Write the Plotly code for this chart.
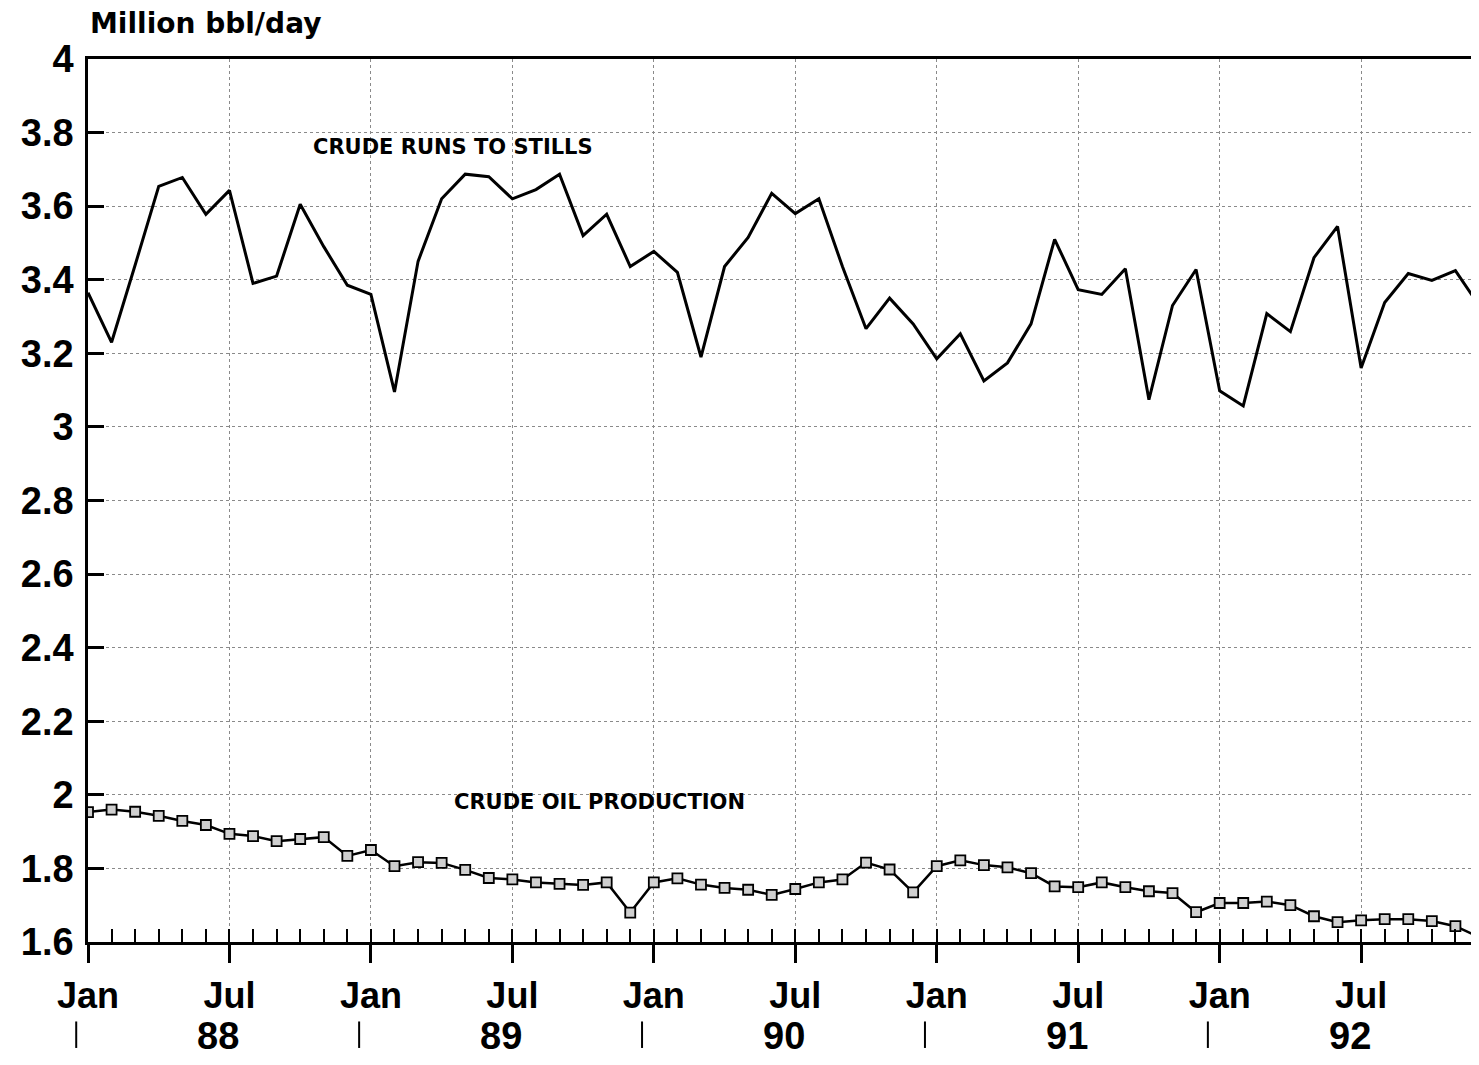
import plotly.graph_objects as go

# ---------------- data (million bbl/day, monthly Jan 1988 - Dec 1992) ----------------
years = ["88", "89", "90", "91", "92"]
month_labels = ["Jan", "Jul"]

crude_runs_1988 = [3.365, 3.23, 3.44, 3.654, 3.678, 3.578, 3.643, 3.39, 3.41, 3.605, 3.49, 3.385]
crude_runs_1989 = [3.36, 3.095, 3.45, 3.62, 3.687, 3.68, 3.62, 3.645, 3.687, 3.52, 3.578, 3.436]
crude_runs_1990 = [3.477, 3.42, 3.19, 3.436, 3.515, 3.635, 3.58, 3.62, 3.436, 3.267, 3.35, 3.28]
crude_runs_1991 = [3.185, 3.253, 3.125, 3.174, 3.28, 3.51, 3.373, 3.36, 3.43, 3.074, 3.33, 3.428]
crude_runs_1992 = [3.098, 3.057, 3.308, 3.259, 3.46, 3.545, 3.16, 3.338, 3.417, 3.398, 3.425, 3.33]

crude_prod_1988 = [1.953, 1.960, 1.954, 1.943, 1.929, 1.918, 1.894, 1.888, 1.874, 1.880, 1.885, 1.834]
crude_prod_1989 = [1.850, 1.806, 1.817, 1.815, 1.796, 1.774, 1.770, 1.762, 1.758, 1.755, 1.762, 1.680]
crude_prod_1990 = [1.762, 1.773, 1.756, 1.747, 1.742, 1.728, 1.744, 1.762, 1.770, 1.816, 1.797, 1.735]
crude_prod_1991 = [1.806, 1.822, 1.809, 1.803, 1.787, 1.751, 1.749, 1.762, 1.749, 1.738, 1.733, 1.681]
crude_prod_1992 = [1.706, 1.706, 1.710, 1.700, 1.670, 1.654, 1.659, 1.662, 1.662, 1.657, 1.643, 1.613]

series_runs_label = "CRUDE RUNS TO STILLS"
series_prod_label = "CRUDE OIL PRODUCTION"
y_title = "Million bbl/day"

# ---------------- build ----------------
crude_runs = crude_runs_1988 + crude_runs_1989 + crude_runs_1990 + crude_runs_1991 + crude_runs_1992
crude_prod = crude_prod_1988 + crude_prod_1989 + crude_prod_1990 + crude_prod_1991 + crude_prod_1992
n = len(crude_runs)
x = list(range(n))

FONT = "Liberation Sans"
LABEL_FONT = "DejaVu Sans"
tick_vals = list(range(0, n, 6))
tick_text = [month_labels[(i // 6) % 2] for i in tick_vals]

fig = go.Figure()
fig.add_trace(go.Scatter(
    x=x, y=crude_runs, mode="lines",
    line=dict(color="black", width=3),
    showlegend=False, hoverinfo="x+y"))
fig.add_trace(go.Scatter(
    x=x, y=crude_prod, mode="lines+markers",
    line=dict(color="black", width=2.5),
    marker=dict(symbol="square", size=10, color="#cfcfcf",
                line=dict(color="black", width=1.8)),
    showlegend=False, hoverinfo="x+y"))
# invisible trace to instantiate the monthly minor-tick axis
fig.add_trace(go.Scatter(
    x=[x[0]], y=[crude_prod[0]], xaxis="x2", mode="markers",
    marker=dict(opacity=0), showlegend=False, hoverinfo="skip"))

grid = dict(showgrid=True, gridcolor="#8a8a8a", gridwidth=1, griddash="dot")

# page body adds an 8px margin; the figure is sized/offset to compensate
fig.update_layout(
    width=1471, height=1049,
    margin=dict(l=80, r=0, t=51, b=115, autoexpand=False),
    paper_bgcolor="white", plot_bgcolor="white",
    font=dict(family=FONT, color="black"),
    xaxis=dict(
        range=[0, n - 1], tickmode="array", tickvals=tick_vals, ticktext=tick_text,
        ticks="outside", ticklen=18, tickwidth=2.5, tickcolor="black",
        showline=True, linecolor="black", linewidth=2.5, mirror=True,
        zeroline=False, automargin=False, ticklabelstandoff=2,
        tickfont=dict(family=FONT, size=36, weight="bold", color="black"),
        **grid),
    xaxis2=dict(
        overlaying="x", anchor="y", side="bottom", range=[0, n - 1],
        tickmode="array", tickvals=x, ticks="inside", ticklen=13, tickwidth=2,
        tickcolor="black", showticklabels=False, showgrid=False,
        showline=False, zeroline=False, automargin=False),
    yaxis=dict(
        range=[1.6, 4.0], tick0=1.6, dtick=0.2,
        ticks="inside", ticklen=16, tickwidth=2.5, tickcolor="black",
        showline=True, linecolor="black", linewidth=2.5,
        zeroline=False, automargin=False, ticklabelstandoff=4,
        tickfont=dict(family=FONT, size=38, weight="bold", color="black"),
        **grid),
)

annotations = [
    dict(text=y_title, xref="paper", yref="paper", x=0.0, y=1.04,
         xanchor="left", yanchor="middle", showarrow=False,
         font=dict(family=LABEL_FONT, size=28, weight="bold", color="black")),
    dict(text=series_runs_label, xref="x", yref="y", x=15.5, y=3.76,
         xanchor="center", yanchor="middle", showarrow=False,
         font=dict(family=LABEL_FONT, size=21, weight="bold", color="black")),
    dict(text=series_prod_label, xref="x", yref="y", x=21.7, y=1.98,
         xanchor="center", yanchor="middle", showarrow=False,
         font=dict(family=LABEL_FONT, size=21, weight="bold", color="black")),
]
for k, yr in enumerate(years):
    annotations.append(dict(
        text=yr, xref="x", yref="paper", x=12 * k + 6, y=-0.106,
        xanchor="center", yanchor="middle", showarrow=False, xshift=-11,
        font=dict(family=FONT, size=38, weight="bold", color="black")))
fig.update_layout(annotations=annotations)

# year separators below the January labels
shapes = []
for k in range(len(years) + 1):
    xp = min((12 * k - 0.5) / (n - 1), 0.999)
    shapes.append(dict(type="line", xref="paper", yref="paper",
                       x0=xp, x1=xp, y0=-0.09, y1=-0.12,
                       line=dict(color="black", width=2)))
fig.update_layout(shapes=shapes)

fig.write_html("out.html")
